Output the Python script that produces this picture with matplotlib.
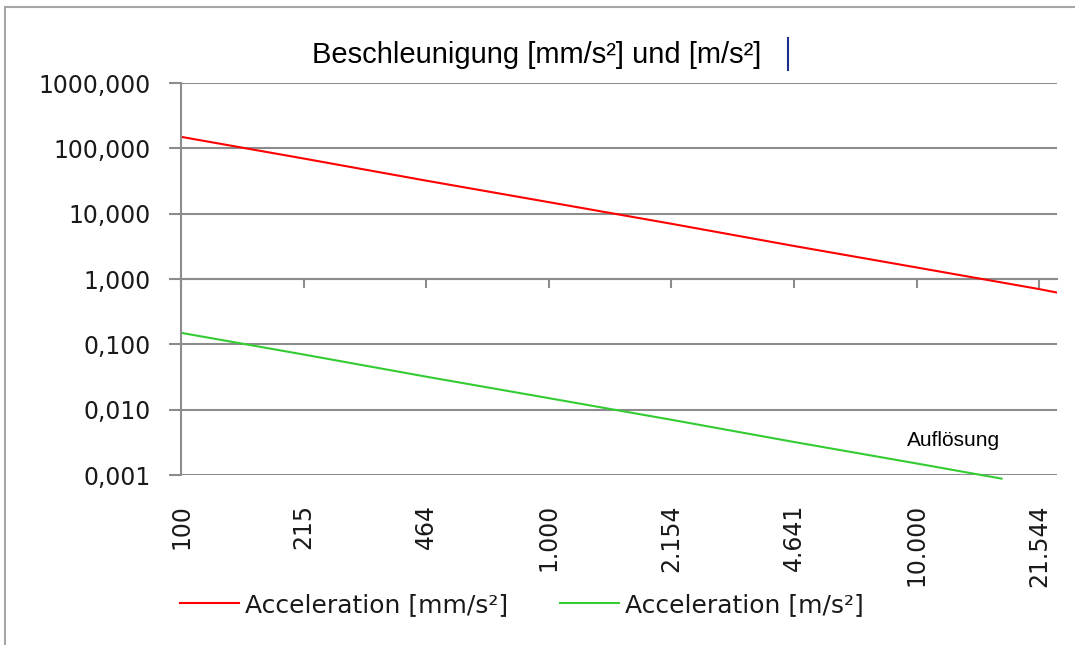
import matplotlib
matplotlib.use("Agg")
import matplotlib.pyplot as plt
from matplotlib.lines import Line2D
from matplotlib.patches import Rectangle

# Frequenz-Kategorien und Beschleunigung
freq_mm = [100, 215, 464, 1000, 2154, 4641, 10000, 21544, 24050]
acc_mm = [150, 70, 32, 15, 7.0, 3.2, 1.5, 0.70, 0.62]
freq_m = [100, 215, 464, 1000, 2154, 4641, 10000, 17000]
acc_m = [0.15, 0.070, 0.032, 0.015, 0.0070, 0.0032, 0.0015, 0.00088]

x_ticks = [100, 215.4, 464.2, 1000, 2154, 4642, 10000, 21544]
x_labels = ["100", "215", "464", "1.000", "2.154", "4.641", "10.000", "21.544"]
y_ticks = [0.001, 0.01, 0.1, 1, 10, 100, 1000]
y_labels = ["0,001", "0,010", "0,100", "1,000", "10,000", "100,000", "1000,000"]

W, H = 1075, 645
grey = "#8c8c8c"

fig = plt.figure(figsize=(W / 100, H / 100), dpi=100)
ax = fig.add_axes([181 / W, 1 - 475 / H, (1057 - 181) / W, (475 - 83) / H])

ax.plot(freq_mm, acc_mm, color="#ff0000", lw=1.5, label="Acceleration [mm/s²]")
ax.plot(freq_m, acc_m, color="#33cc33", lw=1.5, label="Acceleration [m/s²]", clip_on=False)

ax.set_xscale("log")
ax.set_yscale("log")
ax.set_xlim(freq_mm[0], freq_mm[-1])
ax.set_ylim(y_ticks[0], y_ticks[-1])

ax.set_yticks(y_ticks)
ax.set_yticklabels(y_labels)
ax.yaxis.set_minor_locator(matplotlib.ticker.NullLocator())
ax.set_xticks(x_ticks)
ax.set_xticklabels(x_labels, rotation=90, va="top", ha="center")
ax.xaxis.set_minor_locator(matplotlib.ticker.NullLocator())

ax.tick_params(axis="y", length=9, width=1.5, color=grey, pad=13, labelsize=17, labelcolor="#1a1a1a")
ax.tick_params(axis="x", length=0, pad=21, labelsize=17, labelcolor="#1a1a1a")
for lab in ax.get_xticklabels() + ax.get_yticklabels():
    lab.set_family("DejaVu Sans")

ax.grid(axis="y", color=grey, lw=1.5)
for s in ["top", "right", "bottom"]:
    ax.spines[s].set_visible(False)
ax.spines["left"].set_color(grey)
ax.spines["left"].set_linewidth(1.5)

# Kategorienachse kreuzt bei 1,000
sec = ax.secondary_xaxis(0.5)
sec.set_xticks(x_ticks)
sec.xaxis.set_minor_locator(matplotlib.ticker.NullLocator())
sec.tick_params(axis="x", direction="in", length=6.5, width=1.5, color=grey, labeltop=False, labelbottom=False)
sec.spines["top"].set_color(grey)
sec.spines["top"].set_linewidth(1.5)

fig.text(537 / W, 1 - 55 / H, "Beschleunigung [mm/s²] und [m/s²]",
         ha="center", va="center", fontsize=21, family="Liberation Sans")
fig.add_artist(Line2D([788 / W, 788 / W], [1 - 38 / H, 1 - 70 / H], color="#1c2f8c", lw=1.5))
fig.text(907 / W, 1 - 441 / H, "Auflösung", ha="left", va="center", fontsize=15, family="Liberation Sans")

fig.legend(loc="center", bbox_to_anchor=(522 / W, 1 - 605 / H), ncol=2, frameon=False,
           prop={"family": "DejaVu Sans", "size": 18}, labelcolor="#1a1a1a",
           handlelength=2.35, handletextpad=0.25, columnspacing=2.1)

fig.add_artist(Rectangle((5 / W, -0.1), 1.2, 1.1 - 7 / H, transform=fig.transFigure,
                         fill=False, edgecolor="#a6a6a6", lw=1.5))

fig.savefig("out.png", dpi=100)
